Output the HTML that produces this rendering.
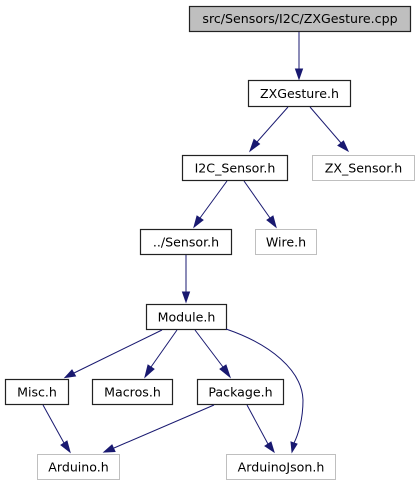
<!DOCTYPE html>
<html><head><meta charset="utf-8"><style>
html,body{margin:0;padding:0;background:#fff;}
svg{display:block;}
text{font-family:"DejaVu Sans","Liberation Sans",sans-serif;font-size:12.6px;fill:#000;text-anchor:middle;}
.b{fill:#fff;stroke:#222;stroke-width:1.2;}
.g{fill:#fff;stroke:#bfbfbf;stroke-width:1;}
.e{fill:none;stroke:#191970;stroke-width:1;}
.a{fill:#191970;stroke:#191970;stroke-width:1;}
</style></head><body>
<svg width="420" height="485" viewBox="0 0 420 485" xmlns="http://www.w3.org/2000/svg">
<rect x="189.5" y="6.5" width="221" height="25" fill="#bfbfbf" stroke="#222" stroke-width="1.2"/>
<text x="300" y="23">src/Sensors/I2C/ZXGesture.cpp</text>
<rect class="b" x="248.5" y="80.5" width="102" height="26"/>
<text x="299.5" y="98">ZXGesture.h</text>
<rect class="b" x="182.5" y="155.5" width="105" height="25"/>
<text x="235" y="172.5">I2C_Sensor.h</text>
<rect class="g" x="312.5" y="155.5" width="102" height="25"/>
<text x="363.5" y="172.5">ZX_Sensor.h</text>
<rect class="b" x="140.5" y="229.5" width="91" height="25"/>
<text x="186" y="246.5">../Sensor.h</text>
<rect class="g" x="255.5" y="229.5" width="61" height="25"/>
<text x="286" y="246.5">Wire.h</text>
<rect class="b" x="146.5" y="304.5" width="80" height="25"/>
<text x="186.5" y="321.5">Module.h</text>
<rect class="b" x="5.5" y="379.5" width="63" height="25"/>
<text x="37" y="396.5">Misc.h</text>
<rect class="b" x="92.5" y="379.5" width="80" height="25"/>
<text x="132.5" y="396.5">Macros.h</text>
<rect class="b" x="197.5" y="379.5" width="86" height="25"/>
<text x="240.5" y="396.5">Package.h</text>
<rect class="g" x="37.5" y="454.5" width="82" height="25"/>
<text x="78.5" y="471.5">Arduino.h</text>
<rect class="g" x="226.5" y="454.5" width="109" height="25"/>
<text x="281" y="471.5">ArduinoJson.h</text>
<path class="e" d="M299,32 L299,69"/>
<polygon class="a" points="295.5,69 302.5,69 299,79"/>
<path class="e" d="M288,107 L257,142"/>
<polygon class="a" points="254,139.5 259.5,144 250,151"/>
<path class="e" d="M310,107 L341,143"/>
<polygon class="a" points="338,145.5 343.5,141 348,151"/>
<path class="e" d="M227,181 L200,218"/>
<polygon class="a" points="197,216 203,220 194,227"/>
<path class="e" d="M244,181 L270,218"/>
<polygon class="a" points="267,220 273,216 276,227"/>
<path class="e" d="M186,255 L186,292"/>
<polygon class="a" points="182.5,292 189.5,292 186,302"/>
<path class="e" d="M162,330 L74,373"/>
<polygon class="a" points="72,370 75.5,376 65,377.5"/>
<path class="e" d="M177,330 L151,367"/>
<polygon class="a" points="148,365 154,369 145,377"/>
<path class="e" d="M195,330 L223,367"/>
<polygon class="a" points="220,369 226,365 230,377"/>
<path class="e" d="M226,329 C270,344 302,370 303,400 C303,420 298,435 294,443"/>
<polygon class="a" points="291,442 297,444 292,452"/>
<path class="e" d="M43,405 L64,443"/>
<polygon class="a" points="61,445 67,441 70,452"/>
<path class="e" d="M214,405 L114,448"/>
<polygon class="a" points="112,445 115,451.5 104,452"/>
<path class="e" d="M247,405 L268,444"/>
<polygon class="a" points="265,446 271,442 274,452"/>
</svg>
</body></html>
